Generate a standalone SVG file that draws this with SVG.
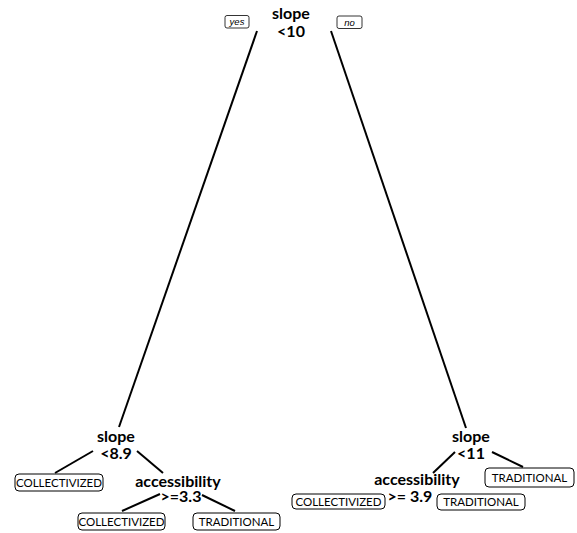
<svg xmlns="http://www.w3.org/2000/svg" width="577" height="533" viewBox="0 0 577 533">
  <style>
    .split { font-family: Lato, "Open Sans", sans-serif; font-weight: bold; font-size: 16px; fill: #000; text-anchor: middle; }
    .leaf rect { fill: #fff; stroke: #000; stroke-width: 1; }
    .leaf text { font-family: Lato, "Open Sans", sans-serif; font-size: 11.5px; fill: #000; text-anchor: middle; }
    .tag rect { fill: #fff; stroke: #000; stroke-width: 0.8; }
    .tag text { font-family: "Liberation Sans", Arial, sans-serif; font-style: italic; font-size: 9.5px; fill: #000; text-anchor: middle; }
    .edges line { stroke: #000; stroke-width: 2; stroke-linecap: butt; }
  </style>
  <rect width="577" height="533" fill="#fff"/>

  <!-- tree edges -->
  <g class="edges" id="connectors">
    <line x1="257" y1="31" x2="119" y2="427"/>
    <line x1="331" y1="31" x2="466" y2="428"/>
    <line x1="93" y1="451" x2="55" y2="473"/>
    <line x1="137" y1="451" x2="163" y2="473"/>
    <line x1="160" y1="494" x2="122" y2="511"/>
    <line x1="202" y1="495" x2="235" y2="511"/>
    <line x1="492" y1="452" x2="523" y2="467"/>
    <line x1="455" y1="452" x2="433" y2="473"/>
  </g>

  <!-- root split -->
  <g id="root">
    <text class="split" x="291" y="19">slope</text>
    <text class="split" x="291" y="37">&lt;10</text>
  </g>
  <g class="tag" id="tag-yes">
    <rect x="225" y="15.5" width="24" height="12.5" rx="2"/>
    <text x="237" y="25">yes</text>
  </g>
  <g class="tag" id="tag-no">
    <rect x="337" y="16" width="25" height="12.5" rx="2"/>
    <text x="349.5" y="25.5">no</text>
  </g>

  <!-- left branch -->
  <g id="slope-left">
    <text class="split" x="116" y="442">slope</text>
    <text class="split" x="116" y="459">&lt;8.9</text>
  </g>
  <g class="leaf" id="leaf-collectivized-1">
    <rect x="15" y="474" width="88" height="17" rx="4"/>
    <text x="59" y="486.5">COLLECTIVIZED</text>
  </g>
  <g id="accessibility-left">
    <text class="split" x="178" y="487">accessibility</text>
    <text class="split" x="181" y="502">&gt;=3.3</text>
  </g>
  <g class="leaf" id="leaf-collectivized-2">
    <rect x="78" y="513" width="87" height="17" rx="4"/>
    <text x="121.5" y="525.5">COLLECTIVIZED</text>
  </g>
  <g class="leaf" id="leaf-traditional-1">
    <rect x="193" y="513" width="87" height="17" rx="4"/>
    <text x="236.5" y="525.5">TRADITIONAL</text>
  </g>

  <!-- right branch -->
  <g id="slope-right">
    <text class="split" x="471" y="442">slope</text>
    <text class="split" x="471" y="459">&lt;11</text>
  </g>
  <g class="leaf" id="leaf-traditional-2">
    <rect x="485" y="468" width="89" height="19" rx="4"/>
    <text x="529.5" y="481.5">TRADITIONAL</text>
  </g>
  <g id="accessibility-right">
    <text class="split" x="417" y="485">accessibility</text>
    <text class="split" x="410" y="502">&gt;= 3.9</text>
  </g>
  <g class="leaf" id="leaf-collectivized-3">
    <rect x="292" y="494" width="93" height="15" rx="4"/>
    <text x="338.5" y="505.5">COLLECTIVIZED</text>
  </g>
  <g class="leaf" id="leaf-traditional-3">
    <rect x="437" y="494" width="88" height="16" rx="4"/>
    <text x="481" y="506">TRADITIONAL</text>
  </g>
</svg>
